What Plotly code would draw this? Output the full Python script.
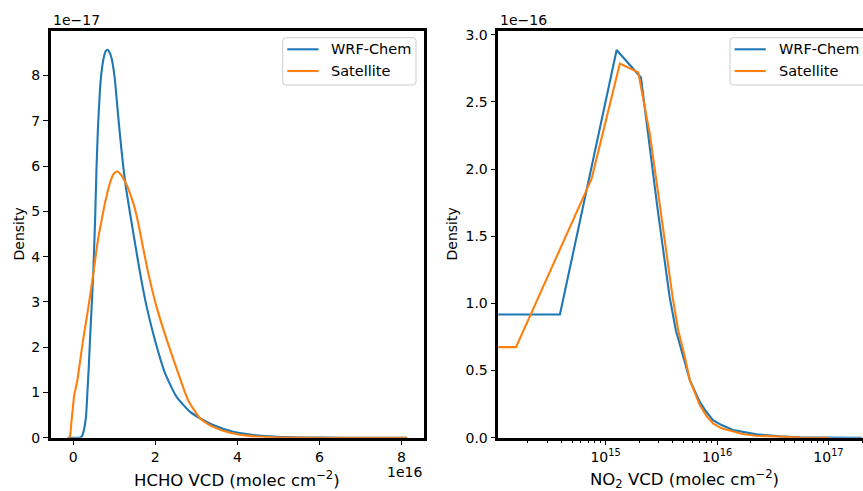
import plotly.graph_objects as go

# HCHO vertical column density (units of 1e16 molec cm^-2) and KDE density (units of 1e-17)
hcho_x_wrf = [-0.14, 0.15, 0.21, 0.26, 0.31, 0.345, 0.38, 0.415, 0.46, 0.50, 0.535, 0.565, 0.60,
              0.65, 0.69, 0.74, 0.79, 0.84, 0.89, 0.94, 1.01, 1.08, 1.17, 1.27, 1.38, 1.49,
              1.63, 1.79, 1.99, 2.24, 2.52, 2.85, 3.09, 3.41, 3.90, 4.39, 4.96, 5.6, 6.5, 8.14]
hcho_d_wrf = [0.0, 0.0, 0.03, 0.17, 0.46, 1.0, 1.6, 2.3, 3.1, 3.95, 4.9, 5.9, 6.8,
              7.67, 8.08, 8.38, 8.54, 8.57, 8.50, 8.36, 7.95, 7.25, 6.4, 5.62, 4.98, 4.38,
              3.63, 2.89, 2.16, 1.42, 0.90, 0.57, 0.43, 0.28, 0.13, 0.06, 0.02, 0.005, 0.0, 0.0]

hcho_x_sat = [-0.14, -0.10, -0.08, -0.04, 0.0, 0.02, 0.10, 0.24, 0.37, 0.49, 0.60, 0.69, 0.77,
              0.89, 0.98, 1.07, 1.17, 1.26, 1.34, 1.42, 1.49, 1.55, 1.62, 1.68, 1.83, 2.03,
              2.28, 2.56, 2.80, 3.09, 3.41, 3.82, 4.31, 4.88, 5.5, 6.5, 8.14]
hcho_d_sat = [0.0, 0.0, 0.03, 0.39, 0.75, 0.92, 1.27, 2.16, 2.89, 3.63, 4.36, 4.80, 5.17,
              5.61, 5.82, 5.88, 5.80, 5.66, 5.50, 5.30, 5.10, 4.88, 4.58, 4.30, 3.63, 2.89,
              2.16, 1.42, 0.83, 0.43, 0.24, 0.11, 0.04, 0.01, 0.002, 0.0, 0.0]

# NO2 vertical column density (molec cm^-2) and KDE density (units of 1e-16)
no2_x_wrf = [1e13, 3.89e14, 1.256e15, 2.075e15, 2.91e15, 3.75e15, 4.27e15, 4.97e15, 5.70e15,
             7.0e15, 8.0e15, 9.2e15, 1.1e16, 1.39e16, 1.7e16, 2.26e16, 3.63e16, 5.6e16,
             1.0e17, 2.0e17]
no2_d_wrf = [0.917, 0.917, 2.886, 2.682, 1.72, 1.05, 0.80, 0.602, 0.429,
             0.267, 0.193, 0.131, 0.094, 0.057, 0.042, 0.025, 0.010, 0.003,
             0.0005, 0.0]

no2_x_sat = [1e13, 1.57e14, 7.48e14, 1.343e15, 1.963e15, 2.495e15, 3.07e15, 3.65e15, 3.99e15,
             4.48e15, 5.14e15, 5.70e15, 7.0e15, 8.0e15, 9.2e15, 1.1e16, 1.39e16, 1.7e16,
             2.26e16, 3.63e16, 5.6e16, 1.0e17]
no2_d_sat = [0.674, 0.674, 1.927, 2.786, 2.72, 2.26, 1.73, 1.30, 1.048,
             0.80, 0.602, 0.429, 0.243, 0.165, 0.107, 0.070, 0.045, 0.028,
             0.015, 0.005, 0.001, 0.0]

series_names = ["WRF-Chem", "Satellite"]
series_colors = ["#1f77b4", "#ff7f0e"]

hcho_ticks = [0, 2, 4, 6, 8]
hcho_dens_ticks = [0, 1, 2, 3, 4, 5, 6, 7, 8]
no2_major_ticks = [1e15, 1e16, 1e17]
no2_major_text = ["10<sup>15</sup>", "10<sup>16</sup>", "10<sup>17</sup>"]
no2_dens_ticks = [0.0, 0.5, 1.0, 1.5, 2.0, 2.5, 3.0]

W, H = 863, 491
FONT = "DejaVu Sans"
LINE_W = 2.1


def px_x(p):
    return p / W


def px_y(p):
    return 1 - p / H


fig = go.Figure()

for xs, ys, name, color in zip([hcho_x_wrf, hcho_x_sat], [hcho_d_wrf, hcho_d_sat],
                               series_names, series_colors):
    fig.add_trace(go.Scatter(x=xs, y=ys, name=name, mode="lines", showlegend=False,
                             line=dict(color=color, width=LINE_W, shape="spline", smoothing=0.6),
                             xaxis="x", yaxis="y"))

for xs, ys, name, color in zip([no2_x_wrf, no2_x_sat], [no2_d_wrf, no2_d_sat],
                               series_names, series_colors):
    fig.add_trace(go.Scatter(x=xs, y=ys, name=name, mode="lines", showlegend=False,
                             line=dict(color=color, width=LINE_W),
                             xaxis="x2", yaxis="y2"))

tickfont = dict(family=FONT, size=14, color="black")
axis_common = dict(showgrid=False, zeroline=False, showline=True, linecolor="black",
                   linewidth=2.5, ticks="outside", ticklen=5, tickwidth=1,
                   tickcolor="black", tickfont=tickfont)

minor_vals = [m * 10.0 ** e for e in range(14, 18) for m in range(2, 10)]

y_dom = [px_y(437.7), px_y(30.7)]

fig.update_layout(
    width=W, height=H,
    margin=dict(l=0, r=0, t=0, b=0, autoexpand=False),
    paper_bgcolor="white", plot_bgcolor="white",
    font=dict(family=FONT, size=14, color="black"),
    showlegend=False,
    xaxis=dict(domain=[px_x(50.7), px_x(424)], range=[-0.55, 8.55], tickvals=hcho_ticks,
               mirror=True, anchor="y", **axis_common),
    yaxis=dict(domain=y_dom, range=[0, 8.99], tickvals=hcho_dens_ticks, mirror=True,
               anchor="x", **axis_common),
    xaxis2=dict(domain=[px_x(498.3), 1.0], type="log", range=[14.037, 17.31],
                tickvals=no2_major_ticks, ticktext=no2_major_text, mirror=True, anchor="y2",
                minor=dict(tickvals=minor_vals, ticks="outside", ticklen=3, tickwidth=0.8,
                           tickcolor="black"),
                **axis_common),
    yaxis2=dict(domain=y_dom, range=[0, 3.03], tickvals=no2_dens_ticks, tickformat=".1f",
                anchor="x2", **axis_common),
)

annotations = [
    dict(text="HCHO VCD (molec cm<sup>−2</sup>)", x=px_x(237.3), y=px_y(478.5),
         xanchor="center", yanchor="middle", font=dict(size=16.5)),
    dict(text="NO<sub>2</sub> VCD (molec cm<sup>−2</sup>)", x=px_x(684), y=px_y(478.5),
         xanchor="center", yanchor="middle", font=dict(size=16.5)),
    dict(text="Density", x=px_x(18.5), y=px_y(234), textangle=-90,
         xanchor="center", yanchor="middle", font=dict(size=14)),
    dict(text="Density", x=px_x(451.5), y=px_y(234), textangle=-90,
         xanchor="center", yanchor="middle", font=dict(size=14)),
    dict(text="1e−17", x=px_x(50.7), y=px_y(20.5), xanchor="left", yanchor="middle",
         font=dict(size=14)),
    dict(text="1e−16", x=px_x(498.3), y=px_y(20.5), xanchor="left", yanchor="middle",
         font=dict(size=14)),
    dict(text="1e16", x=px_x(424), y=px_y(471.5), xanchor="right", yanchor="middle",
         font=dict(size=14)),
]

# Legend boxes (one per panel): rounded frame, colour sample and label per series
shapes = []


def rounded_box(x0, y0, x1, y1, r=3):
    pts = [
        ("M", x0 + r, y0), ("L", x1 - r, y0), ("Q", x1, y0, x1, y0 + r),
        ("L", x1, y1 - r), ("Q", x1, y1, x1 - r, y1), ("L", x0 + r, y1),
        ("Q", x0, y1, x0, y1 - r), ("L", x0, y0 + r), ("Q", x0, y0, x0 + r, y0),
    ]
    parts = []
    for p in pts:
        cmd, coords = p[0], p[1:]
        xy = []
        for i in range(0, len(coords), 2):
            xy.append(f"{px_x(coords[i]):.5f},{px_y(coords[i + 1]):.5f}")
        parts.append(cmd + " ".join(xy))
    return " ".join(parts) + " Z"


row_y = [49.3, 71.0]
for box_x0, box_x1 in [(282.7, 416.0), (730.0, 880.0)]:
    shapes.append(dict(type="path", xref="paper", yref="paper",
                       path=rounded_box(box_x0, 37.7, box_x1, 85.0),
                       fillcolor="rgba(255,255,255,0.8)", line=dict(color="#cccccc", width=1)))
    for name, color, yy in zip(series_names, series_colors, row_y):
        shapes.append(dict(type="line", xref="paper", yref="paper",
                           x0=px_x(box_x0 + 4.6), x1=px_x(box_x0 + 35.8),
                           y0=px_y(yy), y1=px_y(yy), line=dict(color=color, width=LINE_W)))
        annotations.append(dict(text=name, x=px_x(box_x0 + 46.6), y=px_y(yy),
                                xanchor="left", yanchor="middle", font=dict(size=14.5)))

for a in annotations:
    a.update(xref="paper", yref="paper", showarrow=False)
    a["font"].update(family=FONT, color="black")
fig.update_layout(annotations=annotations, shapes=shapes)

fig.write_html("out.html")
